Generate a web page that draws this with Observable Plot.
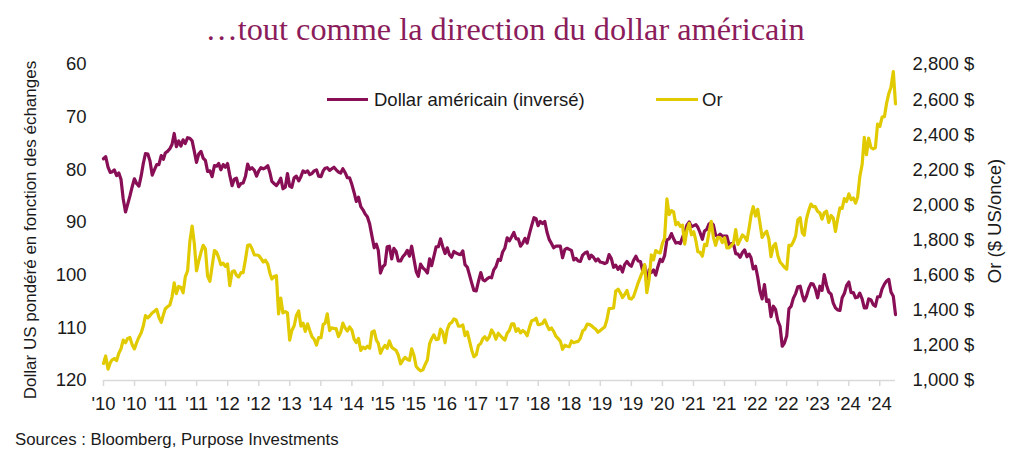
<!DOCTYPE html>
<html><head><meta charset="utf-8">
<script src="https://cdn.jsdelivr.net/npm/d3@7"></script>
<script src="https://cdn.jsdelivr.net/npm/@observablehq/plot@0.6"></script>
<style>
body{margin:0;background:#fff;}
#wrap{position:relative;width:1024px;height:457px;overflow:hidden;font-family:"Liberation Sans",Arial,sans-serif;color:#1a1a1a;}
.abs{position:absolute;white-space:nowrap;line-height:1;}
</style></head>
<body><div id="wrap"></div>
<script>
// ---- data (semi-monthly samples, 1st and 16th of each month, Jan 2010 – Nov 2024) ----
const usdIndex = [
 // 2010
 77.9,77.5,79.5,80.5,80.4,80.0,81.1,80.6,81.8,85.5,88.0,86.5,85.0,83.3,81.7,82.6,83.1,81.2,78.8,76.9,77.0,78.3,81.0,80.0,
 // 2011
 79.0,79.0,77.3,78.0,76.8,76.5,76.0,75.2,73.1,75.6,74.5,75.5,74.3,75.0,73.9,74.0,74.5,76.5,78.6,77.0,76.5,77.8,78.2,80.3,
 // 2012
 80.2,81.3,79.2,79.3,78.8,80.0,79.0,79.5,78.8,81.0,83.0,81.8,81.6,83.2,82.6,82.5,81.2,78.9,79.9,79.6,80.1,81.2,80.2,79.6,
 // 2013
 79.8,79.6,79.2,80.6,82.2,82.6,83.0,82.4,81.6,83.6,83.3,80.7,83.1,83.3,81.5,81.2,82.1,81.3,80.2,80.5,80.2,80.9,80.7,80.2,
 // 2014
 80.0,81.2,81.3,80.2,79.7,79.6,80.1,79.8,79.5,80.0,80.4,80.6,79.8,80.5,81.5,81.5,82.8,84.3,86.0,85.2,87.0,87.6,88.4,88.9,
 // 2015
 90.3,92.5,94.8,94.1,95.3,99.6,98.4,98.0,94.6,94.5,96.9,94.9,95.5,97.3,97.3,96.5,96.0,95.3,96.4,94.5,97.0,99.3,100.2,97.9,
 // 2016
 98.6,99.0,99.6,96.9,98.2,96.5,94.6,94.6,93.1,94.6,95.9,94.8,96.1,96.6,95.5,95.8,96.0,96.1,95.4,98.0,98.5,100.0,101.5,102.9,
 // 2017
 103.0,101.2,99.5,100.9,101.1,100.7,100.4,100.5,99.0,98.4,97.0,97.2,95.6,94.9,92.9,93.5,92.7,91.9,93.1,93.1,94.5,93.9,93.0,93.9,
 // 2018
 92.1,90.6,89.1,89.3,90.6,89.8,90.2,89.8,91.8,93.2,94.0,94.8,94.5,94.5,94.5,96.7,95.1,94.9,95.1,95.3,97.1,96.8,97.3,97.4,
 // 2019
 96.2,95.8,95.6,96.9,96.2,96.6,97.3,96.9,97.5,97.6,97.8,97.6,96.1,96.8,98.5,98.1,98.9,98.3,99.4,98.0,97.4,98.0,98.3,97.2,
 // 2020
 96.4,97.3,97.4,99.1,98.1,101.5,99.0,99.5,99.0,100.0,98.3,97.0,97.4,96.3,93.3,93.1,92.1,93.1,93.9,93.8,94.0,92.8,91.9,90.5,
 // 2021
 89.9,90.8,90.6,90.4,90.9,91.9,93.2,91.6,91.3,90.3,90.0,90.5,92.4,92.7,92.2,92.6,92.6,92.6,94.2,94.0,94.1,95.9,96.0,96.6,
 // 2022
 95.7,95.2,96.5,96.0,96.7,98.8,98.3,100.4,103.0,104.5,101.8,105.0,104.7,107.9,105.9,106.5,108.7,109.7,113.5,112.9,111.5,106.4,105.9,104.4,
 // 2023
 103.5,102.2,102.1,103.8,104.9,104.0,102.5,101.6,101.7,102.6,104.3,102.1,102.9,99.9,101.9,103.2,103.6,105.3,106.2,106.6,106.7,104.3,103.5,102.0,
 // 2024
 101.3,103.3,103.3,104.3,104.2,103.4,104.5,106.2,106.2,104.5,104.7,105.6,105.9,104.1,104.1,102.6,101.7,101.1,100.8,103.2,104.0,107.5
];
const goldPrice = [
 // 2010
 1097,1140,1065,1100,1118,1125,1113,1155,1180,1230,1215,1240,1245,1205,1180,1215,1247,1270,1310,1370,1357,1370,1385,1395,
 // 2011
 1405,1360,1332,1375,1409,1420,1430,1475,1556,1495,1536,1530,1500,1590,1625,1790,1880,1780,1625,1680,1730,1770,1750,1595,
 // 2012
 1565,1650,1740,1730,1700,1660,1668,1650,1664,1540,1620,1625,1600,1590,1614,1615,1690,1770,1773,1750,1715,1715,1712,1695,
 // 2013
 1675,1685,1663,1610,1578,1592,1597,1380,1470,1385,1393,1385,1230,1285,1312,1370,1396,1310,1327,1280,1323,1285,1250,1235,
 // 2014
 1202,1245,1244,1320,1326,1380,1284,1300,1296,1295,1250,1275,1327,1300,1282,1305,1287,1235,1216,1240,1171,1190,1182,1195,
 // 2015
 1184,1275,1283,1230,1212,1155,1183,1200,1183,1225,1190,1180,1172,1145,1095,1115,1132,1120,1115,1180,1142,1080,1065,1055,
 // 2016
 1061,1090,1118,1210,1238,1260,1233,1235,1293,1275,1215,1290,1321,1330,1351,1345,1309,1310,1316,1255,1277,1225,1173,1135,
 // 2017
 1146,1200,1211,1240,1249,1230,1249,1288,1268,1235,1269,1255,1242,1230,1269,1285,1322,1322,1280,1295,1271,1285,1275,1255,
 // 2018
 1303,1340,1345,1355,1318,1320,1325,1345,1315,1290,1299,1280,1253,1240,1224,1178,1201,1195,1192,1225,1215,1220,1223,1240,
 // 2019
 1282,1292,1321,1320,1313,1302,1292,1275,1284,1295,1305,1345,1409,1410,1413,1510,1520,1500,1472,1490,1513,1468,1464,1478,
 // 2020
 1517,1555,1589,1620,1660,1500,1577,1715,1687,1740,1730,1727,1781,1810,2035,1945,1968,1960,1887,1900,1878,1885,1777,1855,
 // 2021
 1895,1830,1847,1795,1734,1730,1708,1775,1769,1840,1907,1815,1770,1815,1814,1785,1814,1755,1755,1768,1783,1860,1775,1800,
 // 2022
 1829,1818,1797,1870,1940,1990,1937,1975,1897,1815,1837,1850,1807,1705,1766,1780,1711,1675,1661,1645,1634,1770,1768,1790,
 // 2023
 1824,1915,1928,1840,1827,1920,1969,2005,1990,1990,1963,1955,1919,1955,1965,1900,1940,1925,1849,1920,1983,1980,2036,2020,
 // 2024
 2063,2030,2040,2010,2044,2160,2230,2385,2286,2380,2327,2320,2326,2460,2447,2500,2503,2580,2634,2670,2760,2575
];
const usdTicks = [60,70,80,90,100,110,120];
const goldTicks = [1000,1200,1400,1600,1800,2000,2200,2400,2600,2800];
const xTickLabels = ["'10","'10","'11","'11","'12","'12","'13","'14","'14","'15","'15","'16","'17","'17","'18","'18","'19","'19","'20","'21","'21","'22","'22","'23","'24","'24"];
const seriesNames = ["Dollar américain (inversé)","Or"];
const seriesColors = ["#880E55","#E1CB00"];

// ---- build ----
const dates = d3.utcMonth.range(new Date(Date.UTC(2010,0,1)), new Date(Date.UTC(2024,11,1)))
  .flatMap(m => [m, d3.utcDay.offset(m, 15)]);
const usdData = dates.map((d,i) => ({date:d, v:usdIndex[i]})).filter(d => d.v != null);
// map gold (secondary axis 1000–2800) onto primary axis units (120–60)
const gMin = goldTicks[0], gMax = goldTicks[goldTicks.length-1];
const uMin = usdTicks[0], uMax = usdTicks[usdTicks.length-1];
const g2u = g => uMin + (gMax - g) / (gMax - gMin) * (uMax - uMin);
const u2g = u => gMax - (u - uMin) / (uMax - uMin) * (gMax - gMin);
const goldData = dates.map((d,i) => ({date:d, v:goldPrice[i]})).filter(d => d.v != null).map(d => ({date:d.date, v:g2u(d.v)}));

const x0 = dates[0], x1 = usdData[usdData.length-1].date;
const tickDates = xTickLabels.map((_,k) => d3.utcDay.offset(x0, k*213));
const labelOf = new Map(tickDates.map((d,k) => [+d, xTickLabels[k]]));
const fmtGold = v => d3.format(",.0f")(v) + " $";

const chart = Plot.plot({
  width:1024, height:457,
  marginTop:64, marginBottom:77, marginLeft:103, marginRight:129,
  style:{fontFamily:'"Liberation Sans", Arial, sans-serif', fontSize:"18.5px", color:"#1a1a1a", background:"transparent"},
  x:{type:"utc", domain:[x0, x1]},
  y:{domain:[uMin, uMax], reverse:true},
  marks:[
    Plot.ruleY([uMax], {stroke:"#d9d9d9", strokeWidth:1.5}),
    Plot.axisX({ticks:tickDates, tickSize:6, stroke:"#d9d9d9", strokeWidth:1.5, tickFormat:() => ""}),
    Plot.axisX({ticks:tickDates, tickSize:0, tickPadding:16, tickFormat:d => labelOf.get(+d), fontSize:18.5, label:null}),
    Plot.axisY({anchor:"left", ticks:usdTicks, tickSize:0, tickPadding:17, fontSize:18.5, label:null}),
    Plot.axisY({anchor:"right", ticks:goldTicks.map(g2u), tickFormat:u => fmtGold(u2g(u)), tickSize:0, tickPadding:17, fontSize:18.5, label:null}),
    Plot.line(usdData, {x:"date", y:"v", stroke:seriesColors[0], strokeWidth:3.2, strokeLinejoin:"round"}),
    Plot.line(goldData, {x:"date", y:"v", stroke:seriesColors[1], strokeWidth:3.2, strokeLinejoin:"round"})
  ]
});
const wrap = document.getElementById("wrap");
chart.style.position = "absolute"; chart.style.left = "0"; chart.style.top = "0";
wrap.appendChild(chart);

function addText(txt, css){ const el = document.createElement("div"); el.className = "abs"; el.textContent = txt; Object.assign(el.style, css); wrap.appendChild(el); return el; }
function addSwatch(css){ const el = document.createElement("div"); el.className = "abs"; Object.assign(el.style, css); wrap.appendChild(el); }

addText("…tout comme la direction du dollar américain", {left:"505px", top:"29px", transform:"translate(-50%,-50%)", fontFamily:'"Liberation Serif", "DejaVu Serif", serif', fontSize:"32.3px", color:"#8B1C5B"});
addText("Dollar US pondéré en fonction des échanges", {left:"30px", top:"230px", transform:"translate(-50%,-50%) rotate(-90deg)", fontSize:"17px"});
addText("Or ($ US/once)", {left:"995px", top:"221px", transform:"translate(-50%,-50%) rotate(-90deg)", fontSize:"18.5px"});
addSwatch({left:"327px", top:"98px", width:"41px", height:"3px", background:seriesColors[0]});
addText(seriesNames[0], {left:"374px", top:"99.5px", transform:"translateY(-50%)", fontSize:"18.5px"});
addSwatch({left:"656px", top:"98px", width:"42px", height:"3px", background:seriesColors[1]});
addText(seriesNames[1], {left:"702px", top:"99.5px", transform:"translateY(-50%)", fontSize:"18.5px"});
addText("Sources : Bloomberg, Purpose Investments", {left:"15px", top:"440px", transform:"translateY(-50%)", fontSize:"16.8px"});
</script>
</body></html>
